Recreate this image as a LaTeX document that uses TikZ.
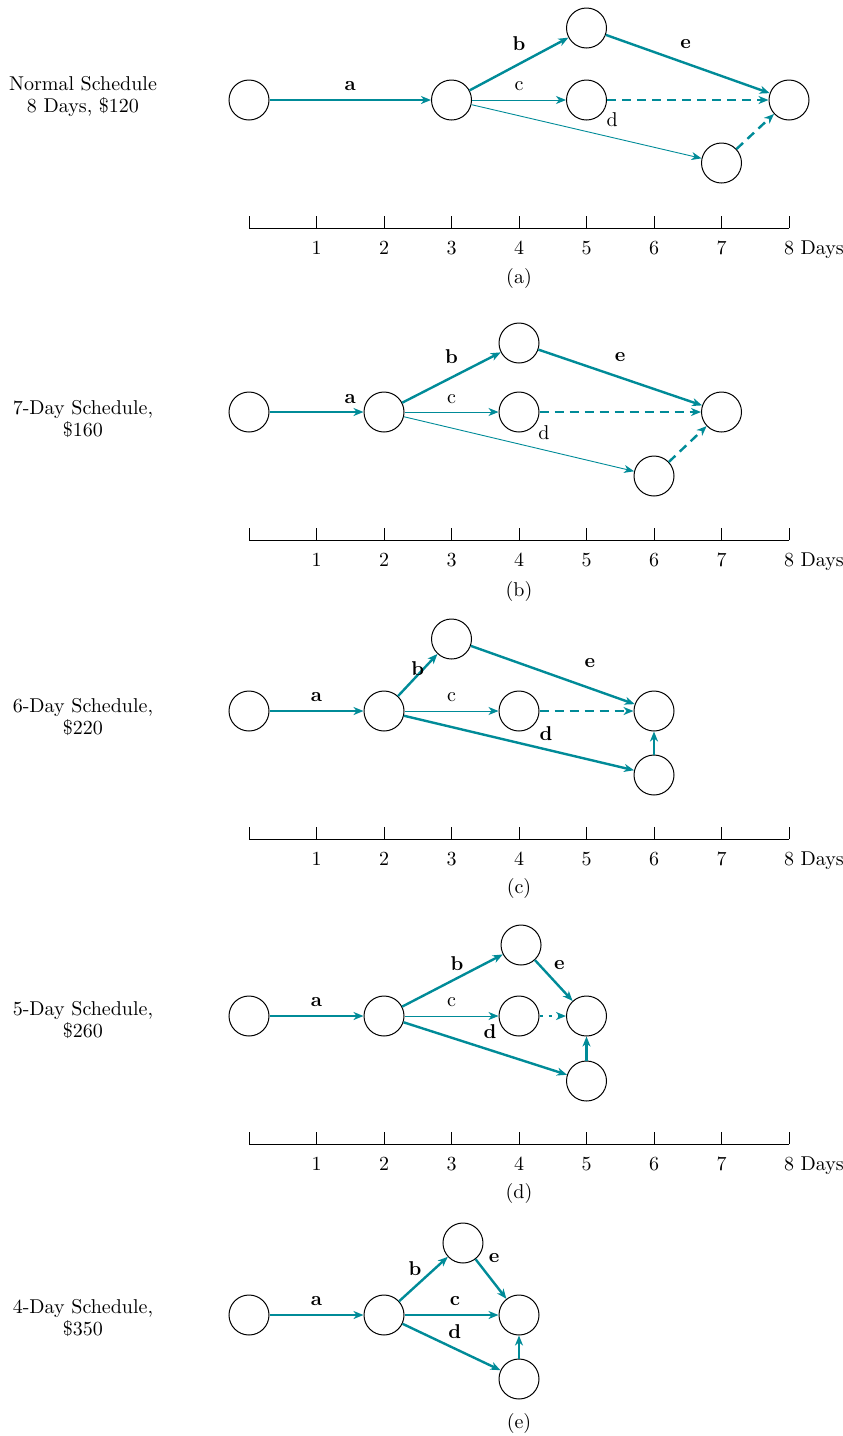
\documentclass[tikz,border=0pt]{standalone}
\usepackage{tikz}
\usetikzlibrary{arrows.meta}
\definecolor{actcolour}{RGB}{0,139,152}
\tikzset{
  evt/.style   = {circle, draw, line width=0.5pt, minimum size=20pt, inner sep=0pt},
  act/.style   = {actcolour, line width=0.45pt, -{Stealth[length=5pt, width=4pt, inset=1.5pt]}},
  crit/.style  = {act, line width=1.2pt},
  % dummy activities: dashed, drawn as heavy as the critical ones
  dum/.style   = {crit, dash pattern=on 4.5pt off 3pt},
  lab/.style   = {font=\fontsize{10}{11}\selectfont, inner sep=1pt},
  clab/.style  = {lab, font=\fontsize{10}{11}\selectfont\bfseries},
  sched/.style = {align=center, font=\fontsize{10}{11}\selectfont},
  nlab/.style  = {font=\fontsize{10}{11}\selectfont, inner sep=1pt, anchor=base},
  axis/.style  = {line width=0.45pt},
}
\newcommand{\daxis}{%
  \draw[axis] (0,-128) -- (8,-128);
  \foreach \d in {0,...,8} \draw[axis] (\d,-128) -- (\d,-116);
  \foreach \d in {1,...,7} \node[nlab] at (\d,-154) {\d};
  \node[nlab] at (8,-154) {8\rlap{ Days}};}

\begin{document}
\begin{tikzpicture}[x=0.5pt, y=0.5pt]
\useasboundingbox (0,0) rectangle (842,-1436);

% (a) normal schedule
\begin{scope}[shift={(249,-100)}, x=33.75pt]
\node[sched] (lbl-a) at (-2.46,4) {Normal Schedule\\8 Days, \$120};
\node[evt] (s-a) at (0,0) {};
\node[evt] (m-a) at (3,0) {};
\node[evt] (t-a) at (5,72) {};
\node[evt] (c-a) at (5,0) {};
\node[evt] (b-a) at (7,-63) {};
\node[evt] (e-a) at (8,0) {};
\draw[crit] (s-a) -- (m-a);
\draw[crit] (m-a) -- (t-a);
\draw[act] (m-a) -- (c-a);
\draw[act] (m-a) -- (b-a);
\draw[crit] (t-a) -- (e-a);
\draw[dum] (c-a) -- (e-a);
\draw[dum] (b-a) -- (e-a);
\node[clab] at (1.5,14) {a};
\node[clab] at (4,56) {b};
\node[lab] at (4,14) {c};
\node[lab] at (5.38,-20) {d};
\node[clab] at (6.47,56) {e};
\daxis
\node[nlab] (cap-a) at (4,-183) {(a)};
\end{scope}

% (b) 7 days
\begin{scope}[shift={(249,-412)}, x=33.75pt]
\node[sched] (lbl-b) at (-2.46,-7) {7-Day Schedule,\\\$160};
\node[evt] (s-b) at (0,0) {};
\node[evt] (m-b) at (2,0) {};
\node[evt] (t-b) at (4,69) {};
\node[evt] (c-b) at (4,0) {};
\node[evt] (b-b) at (6,-64) {};
\node[evt] (e-b) at (7,0) {};
\draw[crit] (s-b) -- (m-b);
\draw[crit] (m-b) -- (t-b);
\draw[act] (m-b) -- (c-b);
\draw[act] (m-b) -- (b-b);
\draw[crit] (t-b) -- (e-b);
\draw[dum] (c-b) -- (e-b);
\draw[dum] (b-b) -- (e-b);
\node[clab] at (1.5,13) {a};
\node[clab] at (3,55) {b};
\node[lab] at (3,13) {c};
\node[lab] at (4.37,-21) {d};
\node[clab] at (5.5,55) {e};
\daxis
\node[nlab] (cap-b) at (4,-184) {(b)};
\end{scope}

% (c) 6 days
\begin{scope}[shift={(249,-711)}, x=33.75pt]
\node[sched] (lbl-c) at (-2.46,-6) {6-Day Schedule,\\\$220};
\node[evt] (s-c) at (0,0) {};
\node[evt] (m-c) at (2,0) {};
\node[evt] (t-c) at (3,72) {};
\node[evt] (c-c) at (4,0) {};
\node[evt] (b-c) at (6,-64) {};
\node[evt] (e-c) at (6,0) {};
\draw[crit] (s-c) -- (m-c);
\draw[crit] (m-c) -- (t-c);
\draw[act] (m-c) -- (c-c);
\draw[crit] (m-c) -- (b-c);
\draw[crit] (t-c) -- (e-c);
\draw[dum] (c-c) -- (e-c);
\draw[crit] (b-c) -- (e-c);
\node[clab] at (1,14) {a};
\node[clab] at (2.5,42) {b};
\node[lab] at (3,14) {c};
\node[clab] at (4.4,-23) {d};
\node[clab] at (5.05,48) {e};
\daxis
\node[nlab] (cap-c) at (4,-182) {(c)};
\end{scope}

% (d) 5 days
\begin{scope}[shift={(249,-1016)}, x=33.75pt]
\node[sched] (lbl-d) at (-2.46,-4) {5-Day Schedule,\\\$260};
\node[evt] (s-d) at (0,0) {};
\node[evt] (m-d) at (2,0) {};
\node[evt] (t-d) at (4.03,71) {};
\node[evt] (c-d) at (4,0) {};
\node[evt] (b-d) at (5,-65) {};
\node[evt] (e-d) at (5,0) {};
\draw[crit] (s-d) -- (m-d);
\draw[crit] (m-d) -- (t-d);
\draw[act] (m-d) -- (c-d);
\draw[crit] (m-d) -- (b-d);
\draw[crit] (t-d) -- (e-d);
\draw[dum, dash pattern=on 1.5pt off 3pt] (c-d) -- (e-d);
\draw[crit] (b-d) -- (e-d);
\node[clab] at (1,14) {a};
\node[clab] at (3.08,52) {b};
\node[lab] at (3,14) {c};
\node[clab] at (3.57,-16) {d};
\node[clab] at (4.6,51) {e};
\daxis
\node[nlab] (cap-d) at (4,-182) {(d)};
\end{scope}

% (e) 4 days
\begin{scope}[shift={(249,-1315)}, x=33.75pt]
\node[sched] (lbl-e) at (-2.46,-3) {4-Day Schedule,\\\$350};
\node[evt] (s-e) at (0,0) {};
\node[evt] (m-e) at (2,0) {};
\node[evt] (t-e) at (3.17,72) {};
\node[evt] (e-e) at (4,0) {};
\node[evt] (b-e) at (4,-64) {};
\draw[crit] (s-e) -- (m-e);
\draw[crit] (m-e) -- (t-e);
\draw[crit] (m-e) -- (e-e);
\draw[crit] (m-e) -- (b-e);
\draw[crit] (t-e) -- (e-e);
\draw[crit] (b-e) -- (e-e);
\node[clab] at (1,14) {a};
\node[clab] at (2.46,46) {b};
\node[clab] at (3.05,14) {c};
\node[clab] at (3.05,-17) {d};
\node[clab] at (3.63,57) {e};
\node[nlab] (cap-e) at (4,-113) {(e)};
\end{scope}
\end{tikzpicture}
\end{document}
